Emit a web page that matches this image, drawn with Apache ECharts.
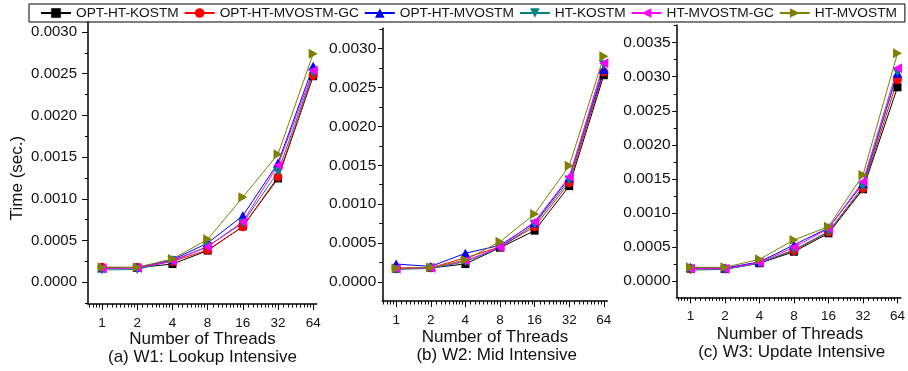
<!DOCTYPE html>
<html>
<head>
<meta charset="utf-8">
<script src="https://cdn.jsdelivr.net/npm/echarts@6/dist/echarts.min.js"></script>
<style>html,body{margin:0;padding:0;background:#fff}#c{width:908px;height:371px}</style>
</head>
<body>
<div id="c"></div>
<script>
// ---- data ----
const threads = [1, 2, 4, 8, 16, 32, 64];
const seriesNames = ['OPT-HT-KOSTM', 'OPT-HT-MVOSTM-GC', 'OPT-HT-MVOSTM', 'HT-KOSTM', 'HT-MVOSTM-GC', 'HT-MVOSTM'];
const xTickLabels = [1, 2, 4, 8, 16, 32, 64];
const yTicksW1 = [0, 0.0005, 0.001, 0.0015, 0.002, 0.0025, 0.003];
const yTicksW2 = [0, 0.0005, 0.001, 0.0015, 0.002, 0.0025, 0.003];
const yTicksW3 = [0, 0.0005, 0.001, 0.0015, 0.002, 0.0025, 0.003, 0.0035];
const subTitles = ['(a) W1: Lookup Intensive', '(b) W2: Mid Intensive', '(c) W3: Update Intensive'];

// W1: Lookup Intensive
const w1_OPT_HT_KOSTM     = [0.000170, 0.000175, 0.000219, 0.000380, 0.000670, 0.001245, 0.002470];
const w1_OPT_HT_MVOSTM_GC = [0.000180, 0.000178, 0.000250, 0.000387, 0.000666, 0.001264, 0.002480];
const w1_OPT_HT_MVOSTM    = [0.000170, 0.000178, 0.000270, 0.000470, 0.000797, 0.001430, 0.002590];
const w1_HT_KOSTM         = [0.000147, 0.000155, 0.000260, 0.000430, 0.000710, 0.001324, 0.002510];
const w1_HT_MVOSTM_GC     = [0.000168, 0.000172, 0.000255, 0.000426, 0.000726, 0.001404, 0.002540];
const w1_HT_MVOSTM        = [0.000180, 0.000180, 0.000279, 0.000515, 0.001020, 0.001536, 0.002740];

// W2: Mid Intensive
const w2_OPT_HT_KOSTM     = [0.000170, 0.000180, 0.000231, 0.000440, 0.000659, 0.001232, 0.002657];
const w2_OPT_HT_MVOSTM_GC = [0.000180, 0.000182, 0.000310, 0.000450, 0.000710, 0.001275, 0.002700];
const w2_OPT_HT_MVOSTM    = [0.000230, 0.000200, 0.000368, 0.000470, 0.000760, 0.001340, 0.002730];
const w2_HT_KOSTM         = [0.000160, 0.000175, 0.000260, 0.000440, 0.000740, 0.001310, 0.002790];
const w2_HT_MVOSTM_GC     = [0.000170, 0.000180, 0.000270, 0.000445, 0.000774, 0.001350, 0.002810];
const w2_HT_MVOSTM        = [0.000175, 0.000184, 0.000282, 0.000517, 0.000873, 0.001493, 0.002900];

// W3: Update Intensive
const w3_OPT_HT_KOSTM     = [0.000180, 0.000175, 0.000260, 0.000430, 0.000700, 0.001347, 0.002845];
const w3_OPT_HT_MVOSTM_GC = [0.000180, 0.000180, 0.000270, 0.000445, 0.000720, 0.001360, 0.002960];
const w3_OPT_HT_MVOSTM    = [0.000200, 0.000190, 0.000280, 0.000530, 0.000780, 0.001430, 0.003050];
const w3_HT_KOSTM         = [0.000160, 0.000170, 0.000260, 0.000460, 0.000725, 0.001385, 0.003070];
const w3_HT_MVOSTM_GC     = [0.000180, 0.000180, 0.000270, 0.000495, 0.000770, 0.001459, 0.003124];
const w3_HT_MVOSTM        = [0.000200, 0.000200, 0.000318, 0.000602, 0.000798, 0.001557, 0.003344];

const panels = [
  [w1_OPT_HT_KOSTM, w1_OPT_HT_MVOSTM_GC, w1_OPT_HT_MVOSTM, w1_HT_KOSTM, w1_HT_MVOSTM_GC, w1_HT_MVOSTM],
  [w2_OPT_HT_KOSTM, w2_OPT_HT_MVOSTM_GC, w2_OPT_HT_MVOSTM, w2_HT_KOSTM, w2_HT_MVOSTM_GC, w2_HT_MVOSTM],
  [w3_OPT_HT_KOSTM, w3_OPT_HT_MVOSTM_GC, w3_OPT_HT_MVOSTM, w3_HT_KOSTM, w3_HT_MVOSTM_GC, w3_HT_MVOSTM]
];
const yTicks = [yTicksW1, yTicksW2, yTicksW3];

// ---- styles ----
const colors = ['#000000', '#ff0000', '#0000ff', '#008080', '#ff00ff', '#808000'];
const symbols = ['rect', 'circle', 'path://M5,0 L10,10 L0,10 Z', 'path://M0,0 L10,0 L5,10 Z', 'path://M10,0 L0,5 L10,10 Z', 'path://M0,0 L10,5 L0,10 Z'];
const symbolSizes = [8, 9, [10, 9], [10, 9], [9, 10], [9, 10]];
const FONT = 'Liberation Sans, Arial, sans-serif';
const grids = [
  { left: 88, top: 22, width: 228.7, height: 282 },
  { left: 382.3, top: 28.3, width: 225, height: 272.7 },
  { left: 676.7, top: 25, width: 227.3, height: 272.3 }
];
const yRanges = [[-0.00026, 0.00312], [-0.000245, 0.00326], [-0.00024, 0.00376]];
const xMin = Math.pow(2, -0.4), xMax = Math.pow(2, 6.1);
const yLabelSize = [15, 15.5, 15.5];
const yLabelMargin = [11, 6, 6];
const yTickLen = [6, 4.5, 4.5];
const titlePos = [[202.5, 339, 202.5, 357], [495, 337.5, 496.7, 355.5], [790, 334, 791.7, 352.5]];

// minor tick positions (8 minor ticks between powers of two)
const xMinor = [];
for (let n = -1; n <= 6; n++) for (let k = 1; k <= 8; k++) {
  const v = Math.pow(2, n) * (1 + k / 9);
  if (v > xMin && v < xMax) xMinor.push(v);
}

const xAxes = [], yAxes = [], series = [];
grids.forEach((g, gi) => {
  const yr = yRanges[gi];
  const yMinor = [];
  for (let v = -0.00025; v < yr[1]; v += 0.0005) if (v > yr[0]) yMinor.push(+v.toFixed(5));
  xAxes.push({
    type: 'log', logBase: 2, gridIndex: gi, min: xMin, max: xMax, position: 'bottom',
    axisLine: { show: true, onZero: false, lineStyle: { color: '#000', width: 1.5 } },
    axisTick: { show: true, length: 6, lineStyle: { color: '#000', width: 1 }, customValues: xTickLabels },
    axisLabel: { customValues: xTickLabels, margin: 12, fontSize: 13.5, fontFamily: FONT, color: '#111',
      formatter: v => String(Math.round(v)) },
    splitLine: { show: false }
  });
  xAxes.push({
    type: 'log', logBase: 2, gridIndex: gi, min: xMin, max: xMax, position: 'bottom', offset: 0,
    axisLine: { show: false, onZero: false },
    axisTick: { show: true, length: 3.5, lineStyle: { color: '#000', width: 1 }, customValues: xMinor },
    axisLabel: { show: false, customValues: xMinor },
    splitLine: { show: false }
  });
  yAxes.push({
    type: 'value', gridIndex: gi, min: yr[0], max: yr[1], position: 'left',
    axisLine: { show: true, onZero: false, lineStyle: { color: '#000', width: 1.5 } },
    axisTick: { show: true, length: yTickLen[gi], lineStyle: { color: '#000', width: 1 }, customValues: yTicks[gi] },
    axisLabel: { customValues: yTicks[gi], margin: yLabelMargin[gi], fontSize: yLabelSize[gi], fontFamily: FONT, color: '#111',
      formatter: v => v.toFixed(4) },
    splitLine: { show: false }
  });
  yAxes.push({
    type: 'value', gridIndex: gi, min: yr[0], max: yr[1], position: 'left', offset: 0,
    axisLine: { show: false, onZero: false },
    axisTick: { show: true, length: 3, lineStyle: { color: '#000', width: 1 }, customValues: yMinor },
    axisLabel: { show: false, customValues: yMinor },
    splitLine: { show: false }
  });
  panels[gi].forEach((vals, si) => {
    series.push({
      type: 'line', name: seriesNames[si], xAxisIndex: gi * 2, yAxisIndex: gi * 2,
      data: threads.map((t, i) => [t, vals[i]]),
      symbol: symbols[si], symbolSize: symbolSizes[si], showAllSymbol: true,
      lineStyle: { color: colors[si], width: 1 },
      itemStyle: { color: colors[si] },
      emphasis: { disabled: true }
    });
  });
});

const graphics = [];
titlePos.forEach((p, i) => {
  graphics.push({ type: 'text', x: p[0], y: p[1], style: { text: 'Number of Threads', font: '17px ' + FONT, fill: '#111', align: 'center', verticalAlign: 'middle', textAlign: 'center', textVerticalAlign: 'middle' } });
  graphics.push({ type: 'text', x: p[2], y: p[3], style: { text: subTitles[i], font: '17px ' + FONT, fill: '#111', align: 'center', verticalAlign: 'middle', textAlign: 'center', textVerticalAlign: 'middle' } });
});
graphics.push({ type: 'text', x: 17.5, y: 178, rotation: Math.PI / 2, style: { text: 'Time (sec.)', font: '17px ' + FONT, fill: '#111', align: 'center', verticalAlign: 'middle', textAlign: 'center', textVerticalAlign: 'middle' } });

const chart = echarts.init(document.getElementById('c'), null, { renderer: 'canvas' });
chart.setOption({
  animation: false,
  backgroundColor: '#fff',
  color: colors,
  legend: {
    data: seriesNames, left: 29, top: 4, orient: 'horizontal',
    itemWidth: 30, itemHeight: 12, itemGap: 5,
    padding: [2, 8, 2, 11],
    borderColor: '#000', borderWidth: 1, borderRadius: 0,
    textStyle: { fontSize: 13.7, fontFamily: FONT, color: '#111' },
    selectedMode: false
  },
  grid: grids,
  xAxis: xAxes,
  yAxis: yAxes,
  series: series,
  graphic: graphics
});
</script>
</body>
</html>
